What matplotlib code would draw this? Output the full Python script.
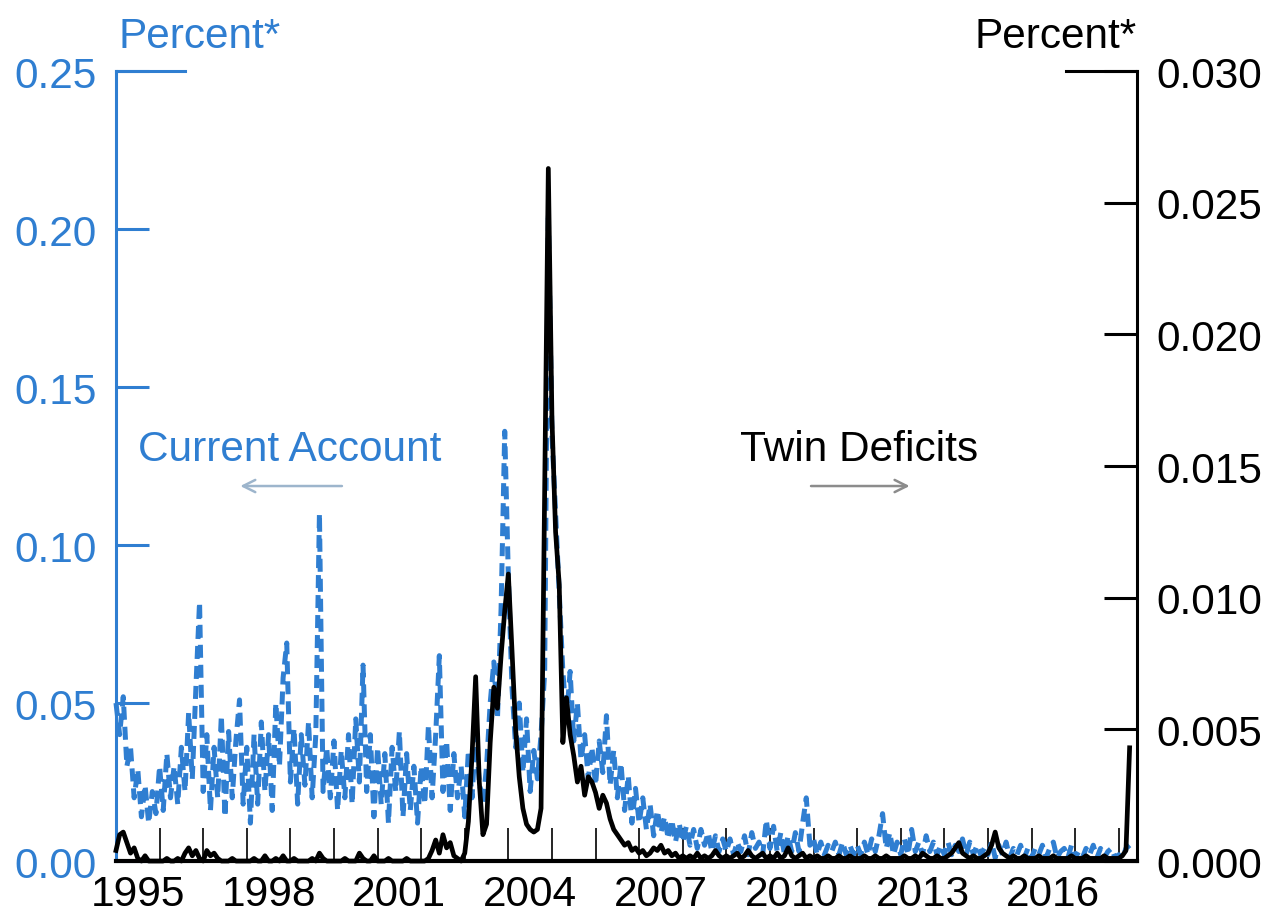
import numpy as np
import matplotlib
matplotlib.use("Agg")
import matplotlib.pyplot as plt

plt.rcParams['font.family'] = ['Liberation Sans', 'DejaVu Sans']

BLUE = '#2F7ED1'

# monthly readings, Jan 1995 - Apr 2018, one row per year
current_account = [
    [0.050, 0.040, 0.052, 0.030, 0.036, 0.020, 0.029, 0.014, 0.024, 0.012, 0.022, 0.015],  # 1995
    [0.030, 0.016, 0.034, 0.020, 0.030, 0.018, 0.036, 0.022, 0.047, 0.026, 0.055, 0.082],  # 1996
    [0.022, 0.040, 0.016, 0.036, 0.020, 0.046, 0.014, 0.041, 0.020, 0.038, 0.051, 0.018],  # 1997
    [0.036, 0.012, 0.040, 0.018, 0.044, 0.022, 0.040, 0.016, 0.050, 0.030, 0.058, 0.069],  # 1998
    [0.025, 0.042, 0.018, 0.040, 0.024, 0.044, 0.020, 0.040, 0.110, 0.022, 0.036, 0.020],  # 1999
    [0.038, 0.016, 0.035, 0.020, 0.040, 0.018, 0.045, 0.025, 0.062, 0.022, 0.040, 0.014],  # 2000
    [0.036, 0.018, 0.034, 0.012, 0.036, 0.022, 0.041, 0.014, 0.034, 0.016, 0.030, 0.012],  # 2001
    [0.030, 0.018, 0.043, 0.020, 0.040, 0.065, 0.022, 0.038, 0.016, 0.034, 0.020, 0.030],  # 2002
    [0.014, 0.035, 0.020, 0.040, 0.025, 0.018, 0.030, 0.050, 0.063, 0.045, 0.080, 0.136],  # 2003
    [0.090, 0.055, 0.036, 0.050, 0.028, 0.045, 0.022, 0.035, 0.026, 0.040, 0.060, 0.205],  # 2004
    [0.135, 0.110, 0.085, 0.060, 0.045, 0.060, 0.038, 0.050, 0.032, 0.040, 0.026, 0.036],  # 2005
    [0.024, 0.038, 0.028, 0.046, 0.024, 0.035, 0.020, 0.031, 0.016, 0.027, 0.012, 0.023],  # 2006
    [0.012, 0.020, 0.010, 0.018, 0.008, 0.016, 0.009, 0.014, 0.007, 0.013, 0.006, 0.012],  # 2007
    [0.006, 0.011, 0.005, 0.010, 0.004, 0.010, 0.005, 0.009, 0.003, 0.008, 0.003, 0.007],  # 2008
    [0.003, 0.007, 0.002, 0.006, 0.003, 0.008, 0.002, 0.009, 0.004, 0.006, 0.002, 0.013],  # 2009
    [0.004, 0.011, 0.003, 0.009, 0.002, 0.008, 0.003, 0.009, 0.003, 0.012, 0.020, 0.005],  # 2010
    [0.007, 0.002, 0.006, 0.002, 0.005, 0.003, 0.006, 0.002, 0.006, 0.002, 0.005, 0.002],  # 2011
    [0.005, 0.002, 0.006, 0.002, 0.007, 0.003, 0.008, 0.015, 0.004, 0.009, 0.002, 0.006],  # 2012
    [0.002, 0.007, 0.002, 0.010, 0.003, 0.006, 0.002, 0.008, 0.003, 0.006, 0.002, 0.005],  # 2013
    [0.002, 0.006, 0.002, 0.005, 0.003, 0.007, 0.002, 0.006, 0.002, 0.005, 0.002, 0.004],  # 2014
    [0.002, 0.006, 0.001, 0.005, 0.002, 0.006, 0.001, 0.004, 0.002, 0.005, 0.001, 0.004],  # 2015
    [0.001, 0.004, 0.002, 0.005, 0.001, 0.004, 0.006, 0.001, 0.003, 0.004, 0.001, 0.005],  # 2016
    [0.001, 0.003, 0.001, 0.004, 0.002, 0.005, 0.001, 0.004, 0.001, 0.003, 0.004, 0.001],  # 2017
    [0.002, 0.001, 0.004, 0.005],                                                          # 2018
]

twin_deficits = [
    [0.0004, 0.0010, 0.0011, 0.0007, 0.0003, 0.0005, 0.0001, 0.0000, 0.0002, 0.0000, 0.0000, 0.0000],
    [0.0000, 0.0000, 0.0001, 0.0000, 0.0000, 0.0001, 0.0000, 0.0003, 0.0005, 0.0002, 0.0004, 0.0001],
    [0.0000, 0.0004, 0.0002, 0.0003, 0.0001, 0.0000, 0.0000, 0.0000, 0.0001, 0.0000, 0.0000, 0.0000],
    [0.0000, 0.0000, 0.0001, 0.0000, 0.0000, 0.0002, 0.0000, 0.0000, 0.0001, 0.0000, 0.0002, 0.0000],
    [0.0000, 0.0001, 0.0000, 0.0000, 0.0000, 0.0000, 0.0001, 0.0000, 0.0003, 0.0001, 0.0000, 0.0000],
    [0.0000, 0.0000, 0.0000, 0.0001, 0.0000, 0.0000, 0.0000, 0.0003, 0.0001, 0.0000, 0.0000, 0.0002],
    [0.0000, 0.0000, 0.0000, 0.0001, 0.0000, 0.0000, 0.0000, 0.0000, 0.0001, 0.0000, 0.0000, 0.0000],
    [0.0000, 0.0000, 0.0001, 0.0004, 0.0008, 0.0003, 0.0010, 0.0005, 0.0007, 0.0002, 0.0001, 0.0000],
    [0.0003, 0.0015, 0.0040, 0.0070, 0.0030, 0.0010, 0.0014, 0.0045, 0.0066, 0.0058, 0.0078, 0.0095],
    [0.0109, 0.0080, 0.0050, 0.0032, 0.0020, 0.0014, 0.0012, 0.0011, 0.0012, 0.0020, 0.0140, 0.0263],
    [0.0168, 0.0125, 0.0105, 0.0045, 0.0062, 0.0048, 0.0040, 0.0030, 0.0036, 0.0025, 0.0032, 0.0030],
    [0.0026, 0.0020, 0.0025, 0.0022, 0.0016, 0.0012, 0.0010, 0.0008, 0.0006, 0.0007, 0.0004, 0.0005],
    [0.0003, 0.0004, 0.0002, 0.0003, 0.0005, 0.0004, 0.0006, 0.0003, 0.0004, 0.0002, 0.0003, 0.0001],
    [0.0002, 0.0001, 0.0002, 0.0001, 0.0003, 0.0001, 0.0002, 0.0001, 0.0002, 0.0004, 0.0002, 0.0001],
    [0.0002, 0.0001, 0.0002, 0.0003, 0.0001, 0.0002, 0.0004, 0.0002, 0.0001, 0.0002, 0.0003, 0.0001],
    [0.0002, 0.0001, 0.0003, 0.0001, 0.0002, 0.0005, 0.0002, 0.0001, 0.0002, 0.0003, 0.0001, 0.0002],
    [0.0001, 0.0002, 0.0001, 0.0001, 0.0002, 0.0001, 0.0001, 0.0002, 0.0001, 0.0001, 0.0002, 0.0001],
    [0.0001, 0.0001, 0.0002, 0.0001, 0.0001, 0.0002, 0.0001, 0.0001, 0.0002, 0.0001, 0.0001, 0.0001],
    [0.0001, 0.0002, 0.0001, 0.0001, 0.0002, 0.0001, 0.0003, 0.0002, 0.0001, 0.0001, 0.0002, 0.0001],
    [0.0001, 0.0002, 0.0003, 0.0005, 0.0007, 0.0003, 0.0002, 0.0001, 0.0002, 0.0001, 0.0001, 0.0002],
    [0.0003, 0.0006, 0.0011, 0.0005, 0.0003, 0.0002, 0.0001, 0.0002, 0.0001, 0.0001, 0.0002, 0.0001],
    [0.0001, 0.0001, 0.0002, 0.0001, 0.0001, 0.0001, 0.0002, 0.0001, 0.0001, 0.0001, 0.0001, 0.0002],
    [0.0001, 0.0001, 0.0001, 0.0002, 0.0001, 0.0001, 0.0001, 0.0001, 0.0002, 0.0001, 0.0001, 0.0001],
    [0.0001, 0.0002, 0.0004, 0.0043],
]

left_ticks = [0.00, 0.05, 0.10, 0.15, 0.20, 0.25]
right_ticks = [0.000, 0.005, 0.010, 0.015, 0.020, 0.025, 0.030]
year_labels = [1995, 1998, 2001, 2004, 2007, 2010, 2013, 2016]

ca = np.array(sum(current_account, []))
td = np.array(sum(twin_deficits, []))
t = 1995 + np.arange(len(ca)) / 12.0

fig = plt.figure(figsize=(12.69, 9.2), dpi=100)
ax1 = fig.add_axes([0.0914, 0.0630, 0.8046, 0.8587])
ax2 = ax1.twinx()

ax1.plot(t, ca, color=BLUE, lw=3.6, dashes=(2.6, 1.4), clip_on=False)
ax2.plot(t, td, color='black', lw=3.4, clip_on=False)

ax1.set_xlim(1995.0, 2018.42)
ax1.set_ylim(0, 0.25)
ax2.set_ylim(0, 0.030)

fs = 30.5
ax1.set_yticks(left_ticks)
ax1.set_yticklabels(['%.2f' % v for v in left_ticks])
ax2.set_yticks(right_ticks)
ax2.set_yticklabels(['%.3f' % v for v in right_ticks])

ax1.set_xticks([y + 0.5 for y in year_labels])
ax1.set_xticklabels([str(y) for y in year_labels])
ax1.set_xticks(np.arange(1996, 2019), minor=True)
ax1.tick_params(axis='x', which='major', length=0, pad=9, labelsize=fs, colors='black')
ax1.tick_params(axis='x', which='minor', direction='in', length=24, width=1.2, color='black')
ax1.tick_params(axis='y', direction='in', length=24, width=2.2, color=BLUE,
                labelcolor=BLUE, labelsize=fs, pad=14)
ax2.tick_params(axis='y', direction='in', length=24, width=2.2, color='black',
                labelcolor='black', labelsize=fs, pad=14)

for ax in (ax1, ax2):
    ax.spines['top'].set_visible(False)
ax1.spines['right'].set_visible(False)
ax2.spines['left'].set_visible(False)
ax2.spines['bottom'].set_visible(False)
ax1.spines['left'].set_color(BLUE)
ax1.spines['left'].set_linewidth(2.2)
ax1.spines['bottom'].set_linewidth(3.0)
ax2.spines['right'].set_linewidth(2.2)

# longer stubs at the top of each axis
ax1.plot([0, 0.068], [1, 1], transform=ax1.transAxes, color=BLUE, lw=2.2, clip_on=False)
ax2.plot([0.93, 1], [1, 1], transform=ax2.transAxes, color='black', lw=2.2, clip_on=False)

fig.text(0.093, 0.938, 'Percent*', color=BLUE, fontsize=fs, ha='left', va='bottom')
fig.text(0.896, 0.938, 'Percent*', color='black', fontsize=fs, ha='right', va='bottom')

ax1.text(0.0215, 0.5215, 'Current Account', transform=ax1.transAxes, color=BLUE,
         fontsize=fs, ha='left', va='center')
ax1.annotate('', xy=(0.119, 0.4747), xytext=(0.224, 0.4747), xycoords='axes fraction',
             arrowprops=dict(arrowstyle='->', color='#9DB5CC', lw=1.8, mutation_scale=22))
ax1.text(0.611, 0.5215, 'Twin Deficits', transform=ax1.transAxes, color='black',
         fontsize=fs, ha='left', va='center')
ax1.annotate('', xy=(0.780, 0.4747), xytext=(0.678, 0.4747), xycoords='axes fraction',
             arrowprops=dict(arrowstyle='->', color='#8C8C8C', lw=1.8, mutation_scale=22))

fig.savefig('out.png', dpi=100)
